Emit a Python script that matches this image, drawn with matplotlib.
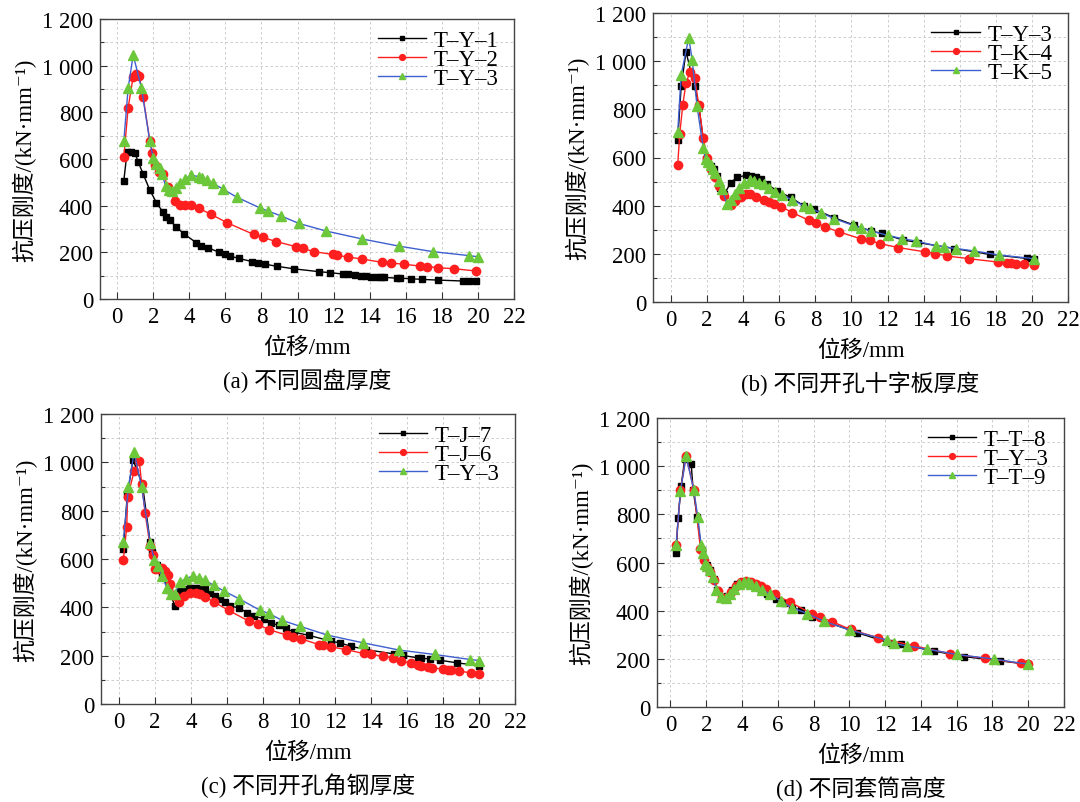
import matplotlib
matplotlib.use("Agg")
import matplotlib.pyplot as plt
from matplotlib.ticker import MultipleLocator, FuncFormatter

plt.rcParams["font.family"] = ["Liberation Serif", "Noto Sans CJK SC", "DejaVu Serif"]

# ---- (a) 不同圆盘厚度 ----
a_ty1_x = [0.37, 0.55, 0.79, 0.98, 1.16, 1.44, 1.81, 2.18, 2.55, 2.73, 2.92, 3.25, 3.71, 4.39,
           4.67, 5.04, 5.65, 5.96, 6.24, 6.75, 7.49, 7.80, 8.21, 8.87, 9.83, 11.2, 11.8, 12.5,
           12.8, 13.2, 13.5, 13.8, 14.1, 14.4, 14.6, 14.8, 15.5, 15.7, 16.3, 16.9, 17.8, 19.2,
           19.5, 19.9]
a_ty1_y = [507, 629, 631, 627, 589, 536, 467, 413, 371, 353, 339, 310, 279, 241,
           229, 220, 200, 191, 184, 174, 160, 156, 149, 140, 129, 117, 113, 107,
           106, 103, 100, 97, 96, 94, 93, 93, 89, 89, 87, 84, 81, 77,
           77, 77]
a_ty2_x = [0.37, 0.61, 0.89, 1.07, 1.22, 1.44, 1.81, 1.96, 2.08, 2.32, 2.55, 2.82, 3.19, 3.47,
           3.75, 4.11, 4.52, 5.18, 6.09, 7.56, 8.08, 8.82, 9.93, 10.3, 10.9, 11.96, 12.2, 12.8,
           13.6, 14.7, 15.2, 15.9, 16.8, 17.2, 17.8, 18.65, 19.9]
a_ty2_y = [607, 820, 953, 963, 957, 867, 679, 627, 574, 546, 536, 481, 421, 403,
           401, 403, 389, 364, 327, 277, 264, 246, 224, 217, 203, 191, 187, 180,
           171, 157, 154, 149, 141, 139, 134, 130, 120]
a_ty3_x = [0.37, 0.61, 0.89, 1.35, 1.81, 2.0, 2.18, 2.36, 2.49, 2.69, 2.88, 3.06, 3.25, 3.47,
           3.75, 4.11, 4.54, 4.72, 4.98, 5.31, 5.87, 6.64, 7.9, 8.36, 9.06, 10.07, 11.6, 13.6,
           15.6, 17.5, 19.5, 20.0]
a_ty3_y = [677, 903, 1046, 903, 677, 603, 577, 560, 534, 484, 467, 463, 477, 496,
           514, 531, 524, 517, 510, 496, 471, 436, 391, 377, 357, 324, 291, 257,
           227, 203, 186, 181]

# ---- (b) 不同开孔十字板厚度 ----
b_ty3_x = [0.37, 0.56, 0.83, 1.30, 1.54, 1.78, 1.96, 2.19, 2.37, 2.52, 2.74, 2.96, 3.3, 3.67,
           4.13, 4.41, 4.69, 4.96, 5.33, 5.89, 6.63, 7.37, 7.93, 9.04, 10.15, 11.07, 11.67,
           12.83, 13.67, 15.7, 17.65, 19.7, 20.1]
b_ty3_y = [673, 895, 1039, 895, 814, 679, 593, 565, 551, 524, 475, 447, 496, 517,
           526, 524, 519, 510, 489, 461, 434, 399, 385, 350, 319, 295, 285,
           258, 247, 222, 198, 181, 177]
b_tk4_x = [0.37, 0.48, 0.65, 0.83, 1.07, 1.31, 1.54, 1.78, 2.0, 2.24, 2.41, 2.65, 2.93, 3.30,
           3.57, 3.85, 4.13, 4.37, 4.69, 5.15, 5.43, 5.70, 6.11, 6.72, 7.65, 8.02, 8.52, 9.31,
           10.5, 11.0, 11.6, 12.6, 14.1, 14.65, 15.3, 16.5, 18.1, 18.6, 18.85, 19.1, 19.55, 20.1]
b_tk4_y = [569, 697, 817, 911, 957, 929, 817, 683, 600, 554, 517, 482, 440, 403,
           420, 438, 447, 450, 438, 422, 415, 408, 396, 371, 339, 330, 312, 291,
           263, 256, 242, 226, 208, 201, 191, 180, 166, 161, 160, 158, 157, 154]
b_tk5_x = [0.37, 0.56, 0.98, 1.17, 1.44, 1.78, 1.91, 2.04, 2.19, 2.31, 2.43, 2.65, 2.83, 3.1,
           3.3, 3.52, 3.76, 4.04, 4.35, 4.59, 4.87, 5.15, 5.43, 5.76, 6.17, 6.72, 7.37, 7.70,
           8.30, 9.04, 10.06, 10.5, 11.07, 12.0, 12.8, 13.6, 14.7, 15.15, 15.8, 16.8, 18.2, 20.1]
b_tk5_y = [704, 942, 1098, 1006, 814, 641, 593, 582, 569, 551, 535, 503, 468, 406,
           424, 447, 472, 493, 506, 503, 496, 489, 475, 457, 443, 424, 399, 389,
           371, 346, 319, 309, 295, 277, 263, 253, 233, 229, 222, 212, 195, 180]

# ---- (c) 不同开孔角钢厚度 ----
c_tj7_x = [0.24, 0.46, 0.78, 1.30, 1.73, 1.86, 2.1, 2.38, 2.75, 3.12, 3.4, 3.68, 3.96, 4.24,
           4.52, 4.8, 5.07, 5.35, 5.63, 5.91, 6.19, 6.65, 7.12, 7.49, 8.05, 8.42, 8.88, 9.26,
           9.72, 10.56, 11.77, 12.27, 12.88, 13.72, 15.3, 15.76, 16.6, 16.8, 17.25, 17.84,
           18.8, 20.0]
c_tj7_y = [643, 864, 1010, 910, 671, 627, 575, 540, 470, 405, 467, 477, 481, 481,
           479, 474, 461, 447, 433, 422, 405, 398, 378, 364, 353, 336, 325, 313,
           297, 284, 260, 253, 239, 225, 207, 201, 191, 189, 187, 181,
           170, 159]
c_tj6_x = [0.24, 0.43, 0.48, 0.84, 1.13, 1.26, 1.45, 1.73, 1.91, 2.0, 2.19, 2.38, 2.57, 2.70,
           2.84, 3.09, 3.31, 3.59, 3.96, 4.28, 4.52, 4.76, 5.26, 6.10, 7.21, 7.71, 8.33, 9.35,
           9.68, 10.1, 11.1, 11.35, 11.77, 12.6, 13.6, 14.0, 14.65, 15.2, 15.67, 16.2, 16.6,
           16.8, 17.16, 17.4, 18.0, 18.27, 18.46, 18.87, 19.57, 20.0]
c_tj6_y = [596, 734, 857, 963, 1004, 910, 790, 654, 615, 557, 557, 564, 550, 534,
           498, 447, 422, 447, 461, 458, 454, 444, 423, 387, 343, 329, 308, 284,
           277, 270, 246, 246, 237, 225, 209, 205, 198, 191, 177, 170, 163,
           159, 152, 149, 145, 142, 142, 136, 129, 124]
c_ty3_x = [0.24, 0.52, 0.84, 1.26, 1.73, 1.97, 2.19, 2.38, 2.66, 2.90, 3.09, 3.40, 3.72, 4.11,
           4.46, 4.76, 5.26, 5.85, 6.65, 7.86, 8.33, 9.03, 10.04, 11.58, 13.57, 15.58, 17.53,
           19.52, 20.0]
c_ty3_y = [672, 896, 1041, 896, 668, 595, 571, 530, 481, 456, 454, 505, 519, 530,
           520, 513, 491, 467, 436, 387, 375, 347, 322, 285, 253, 223, 205,
           184, 180]

# ---- (d) 不同套筒高度 ----
d_tt8_x = [0.32, 0.43, 0.60, 0.80, 1.16, 1.27, 1.49, 1.74, 1.90, 2.05, 2.24, 2.43, 2.61, 2.89,
           3.17, 3.45, 3.73, 4.07, 4.38, 4.72, 5.04, 5.41, 5.88, 6.34, 6.81, 7.28, 7.93, 10.45,
           12.31, 12.87, 14.74, 16.42, 18.43, 19.96]
d_tt8_y = [641, 786, 917, 1030, 1010, 902, 791, 651, 616, 588, 568, 533, 485, 457,
           461, 485, 510, 519, 519, 506, 485, 471, 450, 430, 412, 402, 374, 309,
           264, 260, 232, 209, 192, 177]
d_ty3_x = [0.32, 0.56, 0.88, 1.31, 1.68, 1.87, 2.05, 2.24, 2.43, 2.65, 2.89, 3.13, 3.36, 3.64,
           3.92, 4.20, 4.48, 4.76, 5.04, 5.37, 5.82, 6.68, 7.89, 8.36, 9.05, 10.07, 11.62, 13.62,
           15.6, 17.6, 19.6, 20.0]
d_ty3_y = [674, 899, 1044, 902, 657, 609, 581, 561, 526, 481, 453, 454, 478, 503,
           519, 523, 519, 512, 503, 492, 468, 436, 388, 374, 354, 322, 287, 254,
           222, 202, 181, 178]
d_tt9_x = [0.32, 0.56, 0.88, 1.31, 1.53, 1.72, 1.83, 1.92, 2.05, 2.20, 2.39, 2.57, 2.85, 3.08,
           3.32, 3.54, 3.82, 4.10, 4.33, 4.53, 4.81, 5.13, 5.56, 6.16, 6.81, 7.65, 8.58, 10.04,
           12.09, 12.5, 13.25, 14.37, 16.0, 18.1, 19.96]
d_tt9_y = [674, 895, 1041, 899, 789, 671, 641, 595, 584, 568, 540, 485, 457, 453,
           471, 492, 512, 519, 519, 512, 501, 485, 471, 439, 412, 388, 356, 319,
           278, 264, 253, 240, 218, 199, 178]

BLACK = "#000000"
RED = "#ff1f1f"
GREEN = "#6cc83a"
BLUE = "#3f5fcf"

styles = [
    dict(color=BLACK, marker="s", mfc=BLACK, mec=BLACK, ms=5),
    dict(color=RED, marker="o", mfc=RED, mec=RED, ms=6),
    dict(color=BLUE, marker="^", mfc=GREEN, mec=GREEN, ms=6.5),
]

panels = [
    dict(rect=[100 / 1080, 503 / 803, 414 / 1080, 280 / 803], xmin=-0.95,
         series=[(a_ty1_x, a_ty1_y, "T\u2013Y\u20131"),
                 (a_ty2_x, a_ty2_y, "T\u2013Y\u20132"),
                 (a_ty3_x, a_ty3_y, "T\u2013Y\u20133")],
         caption="(a) 不同圆盘厚度"),
    dict(rect=[653 / 1080, 500 / 803, 415 / 1080, 289 / 803], xmin=-1.0,
         series=[(b_ty3_x, b_ty3_y, "T\u2013Y\u20133"),
                 (b_tk4_x, b_tk4_y, "T\u2013K\u20134"),
                 (b_tk5_x, b_tk5_y, "T\u2013K\u20135")],
         caption="(b) 不同开孔十字板厚度"),
    dict(rect=[101 / 1080, 98 / 803, 414 / 1080, 290 / 803], xmin=-1.0,
         series=[(c_tj7_x, c_tj7_y, "T\u2013J\u20137"),
                 (c_tj6_x, c_tj6_y, "T\u2013J\u20136"),
                 (c_ty3_x, c_ty3_y, "T\u2013Y\u20133")],
         caption="(c) 不同开孔角钢厚度"),
    dict(rect=[657 / 1080, 95 / 803, 407 / 1080, 289 / 803], xmin=-0.75,
         series=[(d_tt8_x, d_tt8_y, "T\u2013T\u20138"),
                 (d_ty3_x, d_ty3_y, "T\u2013Y\u20133"),
                 (d_tt9_x, d_tt9_y, "T\u2013T\u20139")],
         caption="(d) 不同套筒高度"),
]


def thousands(v, pos):
    v = int(round(v))
    if v >= 1000:
        return f"{v // 1000} {v % 1000:03d}"
    return str(v)


FS = 16.5

fig = plt.figure(figsize=(10.8, 8.03), dpi=100)

for p in panels:
    ax = fig.add_axes(p["rect"])
    for (xs, ys, lab), st in zip(p["series"], styles):
        ax.plot(xs, ys, lw=1.0, label=lab, **st)

    ax.set_xlim(p["xmin"], 22)
    ax.set_ylim(0, 1200)
    ax.xaxis.set_major_locator(MultipleLocator(2))
    ax.yaxis.set_major_locator(MultipleLocator(200))
    ax.yaxis.set_minor_locator(MultipleLocator(100))
    ax.yaxis.set_major_formatter(FuncFormatter(thousands))
    ax.tick_params(which="major", direction="in", length=5, width=0.8,
                   labelsize=FS, pad=5, colors="#333333", labelcolor="black")
    ax.tick_params(which="minor", direction="in", length=3, width=0.8, colors="#333333")
    ax.grid(which="both", axis="y", ls=(0, (3, 3)), lw=0.6, color="#c4c4c4")
    ax.grid(which="major", axis="x", ls=(0, (3, 3)), lw=0.6, color="#c4c4c4")
    ax.set_axisbelow(True)
    for s in ax.spines.values():
        s.set_color("#444444")
        s.set_linewidth(1.0)

    ax.set_xlabel("位移/mm", fontsize=FS, labelpad=7)
    ax.set_ylabel("抗压刚度/(kN·mm\u207b\u00b9)", fontsize=FS, labelpad=4)
    ax.annotate(p["caption"], xy=(0.5, 0), xycoords="axes fraction",
                xytext=(0, -81), textcoords="offset pixels",
                ha="center", va="center", fontsize=FS)

    ax.legend(loc="upper right", frameon=False, fontsize=16.5,
              handlelength=2.1, handletextpad=0.35, labelspacing=-0.08,
              markerscale=0.7, borderaxespad=0.0, bbox_to_anchor=(0.985, 0.995))

fig.savefig("out.png", dpi=100)
